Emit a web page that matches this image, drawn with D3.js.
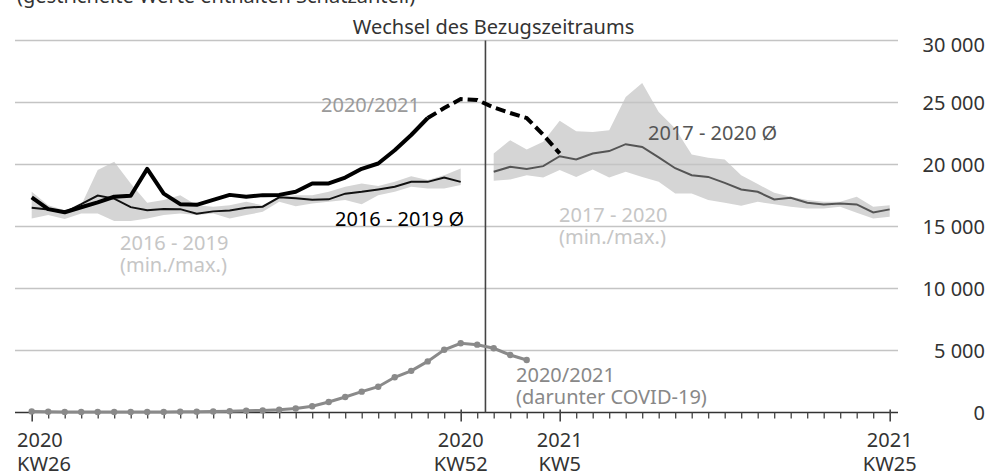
<!DOCTYPE html>
<meta charset="utf-8">
<script src="https://d3js.org/d3.v7.min.js"></script>
<style>
  body { margin: 0; background: #fff; }
  text { font-family: "Noto Sans", "Open Sans", sans-serif; }
</style>
<div id="vis"></div>
<script>

// week categories: KW26 2020 ... KW53 2020, KW1 2021 ... KW25 2021
var weeks = d3.range(26, 54).map(function(w) { return "2020-KW" + w })
  .concat(d3.range(1, 26).map(function(w) { return "2021-KW" + w }))

// 2020/2021 total deaths (from KW26 2020), estimates dashed from KW50 on
var deaths2021 = [17350, 16400, 16150, 16550, 16950, 17400, 17480, 19650, 17650, 16800,
                  16750, 17150, 17550, 17400, 17530, 17550, 17800, 18470, 18470, 18950,
                  19650, 20080, 21150, 22380, 23750, 24550, 25280, 25200, 24600, 24150,
                  23750, 22400, 20900]
var dashFrom = 24

// 2016 - 2019 mean / min / max (from KW26)
var avg1619 = [16520, 16380, 16140, 16800, 17500, 17250, 16560, 16320, 16420, 16400,
               16030, 16220, 16300, 16520, 16600, 17350, 17270, 17150, 17190, 17650,
               17800, 17990, 18200, 18600, 18600, 18950, 18600]
var min1619 = [15650, 15920, 15600, 16050, 16050, 15450, 15450, 15650, 15920, 16050,
               15920, 16050, 15650, 15920, 16180, 16990, 16640, 16860, 16990, 17130,
               16800, 17530, 17800, 18200, 18070, 18070, 18340]
var max1619 = [17800, 16720, 16320, 16720, 19550, 20220, 18470, 16910, 17130, 17530,
               16720, 16590, 16720, 16990, 16720, 17390, 17530, 17530, 17800, 18200,
               18470, 18260, 18600, 19060, 18740, 19140, 19680]

// 2017 - 2020 mean / min / max (from KW1 2021)
var start1720 = 28
var avg1720 = [19410, 19810, 19640, 19870, 20670, 20410, 20890, 21080, 21640, 21420,
               20580, 19700, 19140, 19000, 18520, 17990, 17800, 17180, 17310, 16910,
               16780, 16860, 16780, 16140, 16380]
var min1720 = [18680, 18800, 19140, 18960, 19550, 19000, 19600, 18960, 19410, 19000,
               18600, 17670, 17670, 17130, 16910, 16670, 16990, 16800, 16590, 16460,
               16460, 16590, 16100, 15650, 15780]
var max1720 = [20890, 21960, 21210, 21830, 23520, 22690, 22630, 22770, 25450, 26580,
               24240, 22900, 20810, 20540, 20410, 19140, 18420, 17720, 17390, 17130,
               16990, 16990, 17390, 16590, 16720]

// 2020/2021 of which COVID-19 (from KW26)
var covid = [90, 60, 50, 40, 40, 40, 40, 40, 50, 60,
             70, 80, 100, 140, 170, 220, 320, 500, 850, 1250,
             1680, 2080, 2840, 3360, 4120, 5060, 5580, 5470, 5180, 4640,
             4230]

var yTicks = [0, 5000, 10000, 15000, 20000, 25000, 30000]
var xLabels = [["2020-KW26", "2020", "KW26"], ["2020-KW52", "2020", "KW52"],
               ["2021-KW5", "2021", "KW5"], ["2021-KW25", "2021", "KW25"]]

var width = 990
    height = 472

var svg = d3.select("#vis")
  .append("svg")
    .attr("width", width)
    .attr("height", height)

var x = d3.scalePoint().domain(weeks).range([31.7, 889.7])
var y = d3.scaleLinear().domain([0, 30000]).range([412.5, 40.5])

var fmt = d3.formatLocale({decimal: ",", thousands: " ", grouping: [3], currency: ["", " €"]}).format(",")

// clipped subtitle at the very top
svg.append("text")
  .attr("x", 17).attr("y", 3)
  .attr("font-size", 20).attr("fill", "#333")
  .text("(gestrichelte Werte enthalten Schätzanteil)")

function band(start, lo, hi) {
  return d3.area()
    .x(function(d, i) { return x(weeks[start + i]) })
    .y0(function(d, i) { return y(lo[i]) })
    .y1(function(d, i) { return y(hi[i]) })(lo)
}
function line(start, data) {
  return d3.line()
    .x(function(d, i) { return x(weeks[start + i]) })
    .y(function(d) { return y(d) })(data)
}

svg.append("path").attr("d", band(0, min1619, max1619)).attr("fill", "#d5d5d5")
svg.append("path").attr("d", band(start1720, min1720, max1720)).attr("fill", "#d5d5d5")

// gridlines
svg.append("g")
  .selectAll("line")
  .data(yTicks.slice(1))
  .enter().append("line")
    .attr("x1", 15).attr("x2", 898)
    .attr("y1", function(d) { return y(d) }).attr("y2", function(d) { return y(d) })
    .attr("stroke", "#c4c4c4").attr("stroke-width", 1.3)

// right axis labels
var yAxis = svg.append("g")
  .attr("transform", "translate(985,0)")
  .call(d3.axisRight(y).tickValues(yTicks).tickSize(0).tickPadding(0).tickFormat(fmt))
yAxis.select(".domain").remove()
yAxis.selectAll("text")
  .attr("text-anchor", "end")
  .attr("font-size", 20)
  .attr("font-family", "Noto Sans")
  .attr("fill", "#333")
  .attr("dy", function(d) { return d == 30000 ? "0.55em" : "0.35em" })

// x axis
var xAxis = svg.append("g")
  .attr("transform", "translate(0," + y(0) + ")")
  .call(d3.axisBottom(x).tickSize(6).tickSizeOuter(0).tickFormat(""))
xAxis.select(".domain").attr("d", "M15,0H898").attr("stroke", "#333").attr("stroke-width", 1.6)
xAxis.selectAll(".tick line").attr("stroke", "#444").attr("stroke-width", 1.3)
xAxis.selectAll(".tick")
  .filter(function(d) { return xLabels.some(function(l) { return l[0] == d }) })
  .select("line").attr("y1", -3).attr("y2", 9).attr("stroke-width", 1.6)

var lab = svg.append("g").selectAll("text")
  .data(xLabels)
  .enter().append("text")
    .attr("font-size", 20).attr("fill", "#333")
    .attr("text-anchor", function(d, i) { return i == 0 ? "start" : "middle" })
    .attr("transform", function(d, i) { return "translate(" + (i == 0 ? 17 : x(d[0])) + ",0)" })
lab.append("tspan").attr("x", 0).attr("y", 446.5).text(function(d) { return d[1] })
lab.append("tspan").attr("x", 0).attr("y", 470.5).text(function(d) { return d[2] })

// change of reference period
var xChange = (x("2020-KW53") + x("2021-KW1")) / 2
svg.append("line")
  .attr("x1", xChange).attr("x2", xChange)
  .attr("y1", y(30000)).attr("y2", y(0))
  .attr("stroke", "#444").attr("stroke-width", 1.6)
svg.append("text")
  .attr("x", 493.5).attr("y", 34)
  .attr("text-anchor", "middle")
  .attr("font-size", 20).attr("fill", "#333")
  .text("Wechsel des Bezugszeitraums")

// mean lines
svg.append("path").attr("d", line(0, avg1619))
  .attr("fill", "none").attr("stroke", "#111").attr("stroke-width", 2)
svg.append("path").attr("d", line(start1720, avg1720))
  .attr("fill", "none").attr("stroke", "#555").attr("stroke-width", 2)

// 2020/2021
svg.append("path").attr("d", line(0, deaths2021.slice(0, dashFrom + 1)))
  .attr("fill", "none").attr("stroke", "#000").attr("stroke-width", 4)
  .attr("stroke-linejoin", "round")
svg.append("path").attr("d", line(dashFrom, deaths2021.slice(dashFrom)))
  .attr("fill", "none").attr("stroke", "#000").attr("stroke-width", 4)
  .attr("stroke-dasharray", "10,5")

// covid
svg.append("path").attr("d", line(0, covid))
  .attr("fill", "none").attr("stroke", "#8a8a8a").attr("stroke-width", 3)
svg.append("g").selectAll("circle")
  .data(covid)
  .enter().append("circle")
    .attr("cx", function(d, i) { return x(weeks[i]) })
    .attr("cy", function(d) { return y(d) })
    .attr("r", 3.2)
    .attr("fill", "#8a8a8a")

// annotations
function note(tx, ty, lines, color) {
  var t = svg.append("text").attr("font-size", 20).attr("fill", color)
  lines.forEach(function(s, i) {
    t.append("tspan").attr("x", tx).attr("y", ty + i * 22.5).text(s)
  })
}
note(321, 111.5, ["2020/2021"], "#9a9a9a")
note(335, 226, ["2016 - 2019 Ø"], "#000")
note(648, 140, ["2017 - 2020 Ø"], "#555")
note(120, 249.5, ["2016 - 2019", "(min./max.)"], "#c6c6c6")
note(559, 221.5, ["2017 - 2020", "(min./max.)"], "#c6c6c6")
note(516, 381.5, ["2020/2021", "(darunter COVID-19)"], "#888")

</script>
